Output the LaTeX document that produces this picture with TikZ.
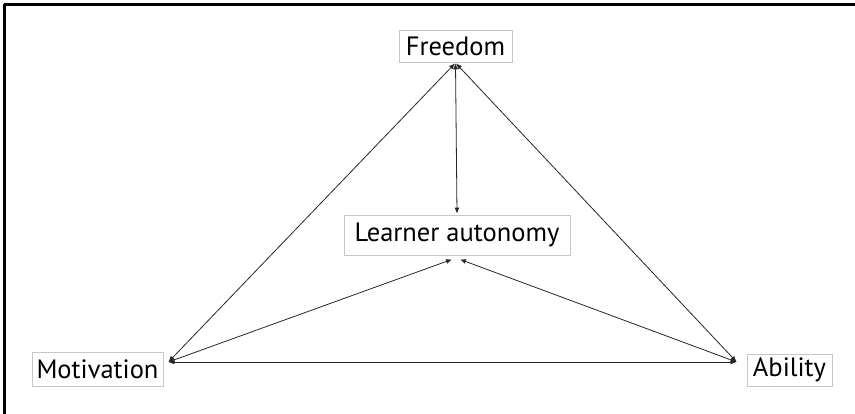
\documentclass[tikz,border=0pt]{standalone}
\usepackage{fontspec}
\setmainfont{PT Sans}
\usetikzlibrary{positioning,arrows.meta}

\begin{document}
\begin{tikzpicture}
   [x=1pt,y=-1pt,
    every node/.style={draw=black!22,line width=0.8pt,inner sep=0pt,font=\fontsize{26.5}{30}\selectfont},
    link/.style={{Latex[length=6pt,width=5pt]}-{Latex[length=6pt,width=5pt]},line width=0.8pt,black!85}]

\useasboundingbox (0,0) rectangle (855,414);

% Frame
\draw[line width=3pt] (4,4.5) -- (855,4.5);
\draw[line width=3pt] (4,4.5) -- (4,414);

\node[minimum width=113pt,minimum height=32pt](fr) at (455.5,46) {Freedom};
\node[minimum width=226pt,minimum height=40pt](la) at (457,235) {Learner autonomy};
\node[minimum width=131pt,minimum height=34pt](mo) at (97.5,369) {Motivation};
\node[minimum width=85pt,minimum height=32pt](ab) at (789.5,370) {Ability};

%%%%%%%%%%%%%%%%%%%%%%%%%%%%%%%%%%%%%%%%%%%%%%%%%%%%%%%%%%%%%%%
% Connecting nodes
%%%%%%%%%%%%%%%%%%%%%%%%%%%%%%%%%%%%%%%%%%%%%%%%%%%%%%%%%%%%%%%

\draw[link] ([yshift=-1pt]fr.south) -- ([yshift=1pt]la.north);
\draw[link] ([shift={(5,-7)}]mo.east) -- ([shift={(-0.5,1)}]fr.south);
\draw[link] ([shift={(-10,-8)}]ab.west) -- ([shift={(0.5,1)}]fr.south);
\draw[link] ([shift={(5,-7)}]mo.east) -- ([shift={(-5,4)}]la.south);
\draw[link] ([shift={(-10,-8)}]ab.west) -- ([shift={(3,4)}]la.south);
\draw[link] ([shift={(5,-7)}]mo.east) -- ([shift={(-10,-8)}]ab.west);

\end{tikzpicture}
\end{document}
